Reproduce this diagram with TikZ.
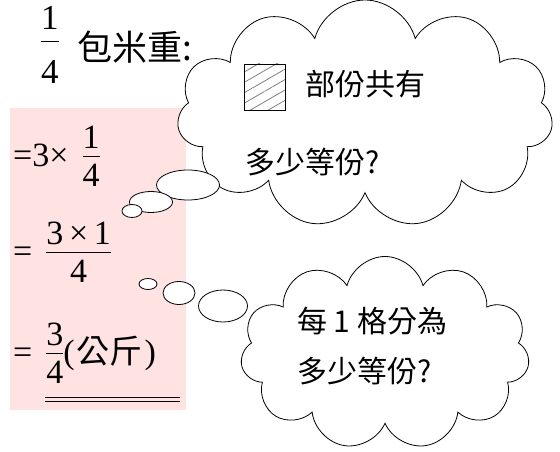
\documentclass[tikz,border=0pt]{standalone}
\usepackage{fontspec}
\setmainfont{Liberation Serif}
\newfontfamily\cjk{Noto Sans CJK TC}
\usepackage{tikz}
\usetikzlibrary{shapes.symbols, shapes.geometric, patterns.meta}
\definecolor{pinkbg}{HTML}{FFE3E3}
\setlength{\arrayrulewidth}{1pt}
\newcommand{\frc}[2]{\begin{tabular}{@{}c@{}}#1\\[-4pt]\hline\rule{0pt}{30pt}#2\end{tabular}}
\newcommand{\bigfrc}[2]{\begin{tabular}{@{}c@{}}#1\\[0pt]\hline\rule{0pt}{42pt}#2\end{tabular}}
\tikzstyle{thought} = [cloud, cloud puffs=11, cloud ignores aspect, draw=black, thick, fill=white]
\tikzstyle{puff} = [ellipse, draw=black, thick, fill=white, inner sep=0pt]
\tikzstyle{txt} = [anchor=west, inner sep=0pt, font=\fontsize{30}{34}\selectfont\cjk]
\tikzstyle{eq} = [anchor=west, inner sep=0pt, font=\fontsize{34}{38}\selectfont]

\begin{document}
\begin{tikzpicture}[x=1pt,y=-1pt]
   \useasboundingbox (0,0) rectangle (560,452);
   \fill[pinkbg] (10,108) rectangle (186,410);
   % title
   \node (quarter) [eq, font=\fontsize{35}{38}\selectfont] at (41,49) {\bigfrc{1}{4}};
   \node (rice) [txt, font=\fontsize{35}{38}\selectfont\cjk] at (77,47) {包米重:};
   % working
   \node (stepA) [eq] at (13,160) {=3×\hspace{14pt}\frc{1}{4}};
   \node (stepB) [eq] at (13,256) {=\hspace{14pt}\frc{3\,×\,1}{4}};
   \node (stepC) [eq] at (13,357) {=\hspace{14pt}\frc{3}{4}(\hspace{2pt}{\cjk\fontsize{33}{36}\selectfont 公斤}\hspace{2pt})};
   \draw (45,397) -- (180,397);
   \draw (45,401) -- (180,401);
   % upper cloud
   \node (cloudA) [thought, minimum width=376pt, minimum height=228pt] at (365,114) {};
   \node (hatch) [draw=black, thick, minimum width=41pt, minimum height=46pt,
      pattern={Lines[angle=30,distance=9pt,line width=0.8pt]}, pattern color=gray] at (264.5,87) {};
   \node (partA) [txt] at (305,84) {部份共有};
   \node (askA) [txt] at (245,162) {多少等份?};
   \node (dotA1) [puff, minimum width=63pt, minimum height=30pt] at (188,185) {};
   \node (dotA2) [puff, minimum width=43pt, minimum height=21pt] at (151,202) {};
   \node (dotA3) [puff, minimum width=20pt, minimum height=13pt] at (132,211) {};
   % lower cloud
   \node (cloudB) [thought, minimum width=289pt, minimum height=193pt] at (385,353) {};
   \node (partB) [txt] at (297,321) {每 1 格分為};
   \node (askB) [txt] at (297,371) {多少等份?};
   \node (dotB1) [puff, minimum width=18pt, minimum height=11pt] at (148,284) {};
   \node (dotB2) [puff, minimum width=32pt, minimum height=23pt] at (179,293) {};
   \node (dotB3) [puff, minimum width=49pt, minimum height=32pt] at (223,306) {};
\end{tikzpicture}
\end{document}
